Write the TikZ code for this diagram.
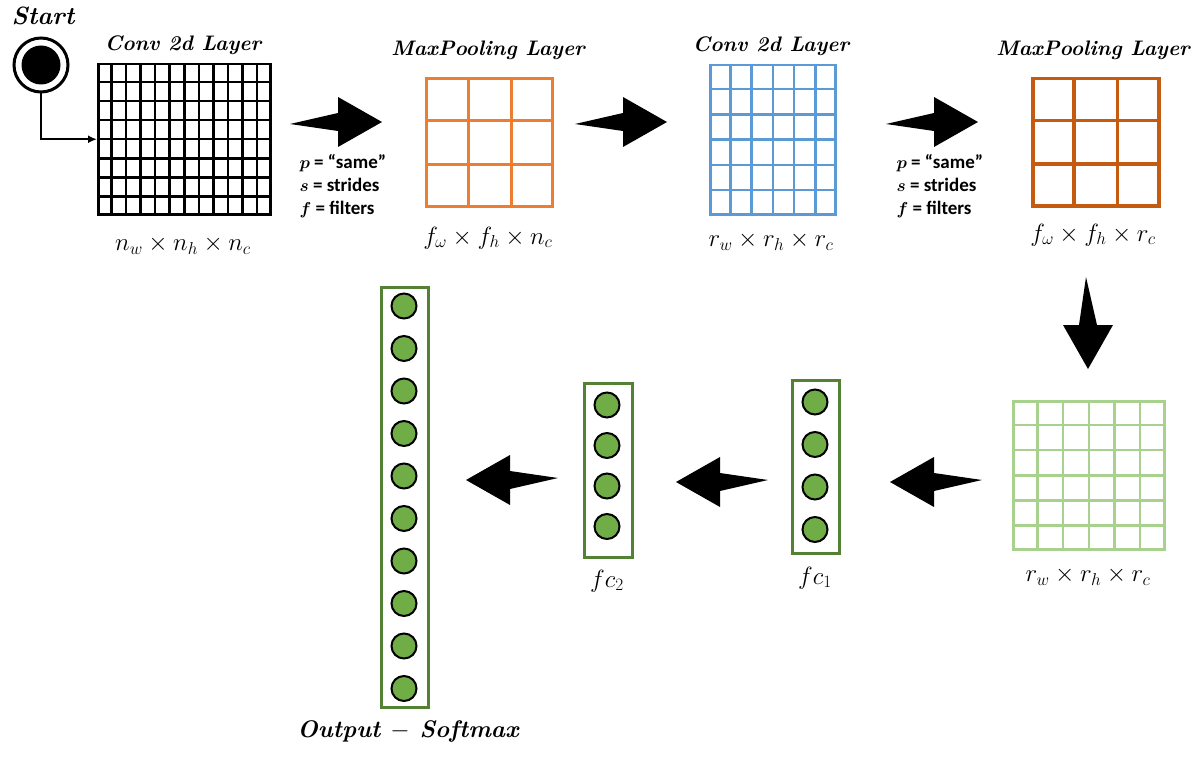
\documentclass[tikz,border=0pt]{standalone}
\usepackage{fontspec}
\usepackage{amsmath}
\newfontfamily\carl{Carlito}
\usetikzlibrary{calc,arrows.meta}
\definecolor{orA}{RGB}{237,125,49}
\definecolor{orB}{RGB}{197,90,17}
\definecolor{blu}{RGB}{91,155,213}
\definecolor{lgr}{RGB}{169,209,142}
\definecolor{gfill}{RGB}{112,173,71}
\definecolor{gbox}{RGB}{84,130,53}
\tikzset{
  ttl/.style={font=\fontsize{21}{22}\selectfont\bfseries\itshape},
  mth/.style={font=\fontsize{27}{29}\selectfont},
  par/.style={font=\fontsize{19}{23}\selectfont\carl\bfseries, align=left, anchor=west},
  neuron/.style={circle, draw=black, line width=2pt, fill=gfill, minimum size=25pt, inner sep=0pt},
  fcbox/.style={draw=gbox, line width=2.5pt, inner sep=0pt, anchor=north west},
  blk/.pic={\fill[black] (-46,2) -- (2,-9) -- (2,-25) -- (46,0) -- (2,25) -- (2,9) -- cycle;}
}
% name, x1, y1, x2, y2, cols-1, rows-1, colour, width
\newcommand\mygrid[9]{%
  \node[draw=#8, line width=#9, minimum width={(#4-#2)*1pt}, minimum height={(#5-#3)*1pt}, inner sep=0pt, anchor=north west] (#1) at (#2,#3) {};
  \foreach \i in {1,...,#6} \draw[#8, line width=#9] ($(#1.north west)!\i/(#6+1)!(#1.north east)$) -- ($(#1.south west)!\i/(#6+1)!(#1.south east)$);
  \foreach \i in {1,...,#7} \draw[#8, line width=#9] ($(#1.north west)!\i/(#7+1)!(#1.south west)$) -- ($(#1.north east)!\i/(#7+1)!(#1.south east)$);
}
\begin{document}
\begin{tikzpicture}[x=1pt,y=-1pt]
\useasboundingbox (0,0) rectangle (1200,757);
% start
\node[circle, draw=black, line width=3pt, minimum size=54pt, inner sep=0pt] (st) at (41,65) {};
\node[circle, fill=black, minimum size=39pt, inner sep=0pt] at (st) {};
\node[font=\fontsize{25}{27}\selectfont\bfseries\itshape] (stt) at (43,16) {Start};
\mygrid{g1}{97}{63}{269}{213}{11}{7}{black}{2.5pt}
\draw[line width=2pt, -{Latex[length=9pt,width=8pt]}] (st.south) |- (g1.west);
\node[ttl] (t1) at (183,45) {Conv 2d Layer};
\node[mth] (m1) at (183,245) {$n_w \times n_h \times n_c$};

\mygrid{g2}{425}{77}{551}{205}{2}{2}{orA}{3pt}
\node[ttl] (t2) at (488,50) {MaxPooling Layer};
\node[mth] (m2) at (488,238) {$f_\omega \times f_h \times n_c$};

\mygrid{g3}{709}{64}{834}{213}{5}{5}{blu}{2.5pt}
\node[ttl] (t3) at (771,46) {Conv 2d Layer};
\node[mth] (m3) at (771,241) {$r_w \times r_h \times r_c$};

\mygrid{g4}{1031}{77}{1157}{204}{2}{2}{orB}{3.5pt}
\node[ttl] (t4) at (1093,50) {MaxPooling Layer};
\node[mth] (m4) at (1093,235) {$f_\omega \times f_h \times r_c$};

\mygrid{g5}{1012}{400}{1163}{548}{5}{5}{lgr}{2.5pt}
\node[mth] (m5) at (1088,576) {$r_w \times r_h \times r_c$};

\node[par] (p1) at (296,186) {$\boldsymbol{p}$ = “same”\\$\boldsymbol{s}$ = strides\\$\boldsymbol{f}$ = filters};
\node[par] (p2) at (893,186) {$\boldsymbol{p}$ = “same”\\$\boldsymbol{s}$ = strides\\$\boldsymbol{f}$ = filters};

% block arrows
\pic at (336,122) {blk};
\pic at (621,122) {blk};
\pic at (932,122) {blk};
\pic[rotate=-90] at (1088,323) {blk};
\pic[rotate=180] at (936,482) {blk};
\pic[rotate=180] at (722,482) {blk};
\pic[rotate=180] at (512,480) {blk};

% fully connected
\node[fcbox, minimum width=47pt, minimum height=173pt] (fc1) at (791,379) {};
\foreach \k in {0,...,3} \node[neuron] (n1\k) at (815,402+\k*42.5) {};
\node[mth] (l1) at (815,578) {$fc_1$};
\node[fcbox, minimum width=48pt, minimum height=174pt] (fc2) at (583,382) {};
\foreach \k in {0,...,3} \node[neuron] (n2\k) at (607,405+\k*40.5) {};
\node[mth] (l2) at (607,581) {$fc_2$};
\node[fcbox, minimum width=47pt, minimum height=420pt] (out) at (380,286) {};
\foreach \k in {0,...,9} \node[neuron] (n3\k) at (404,306+\k*42.5) {};
\node[font=\fontsize{24}{26}\selectfont\bfseries\itshape] (lo) at (408,731) {Output $-$ Softmax};
\end{tikzpicture}
\end{document}
